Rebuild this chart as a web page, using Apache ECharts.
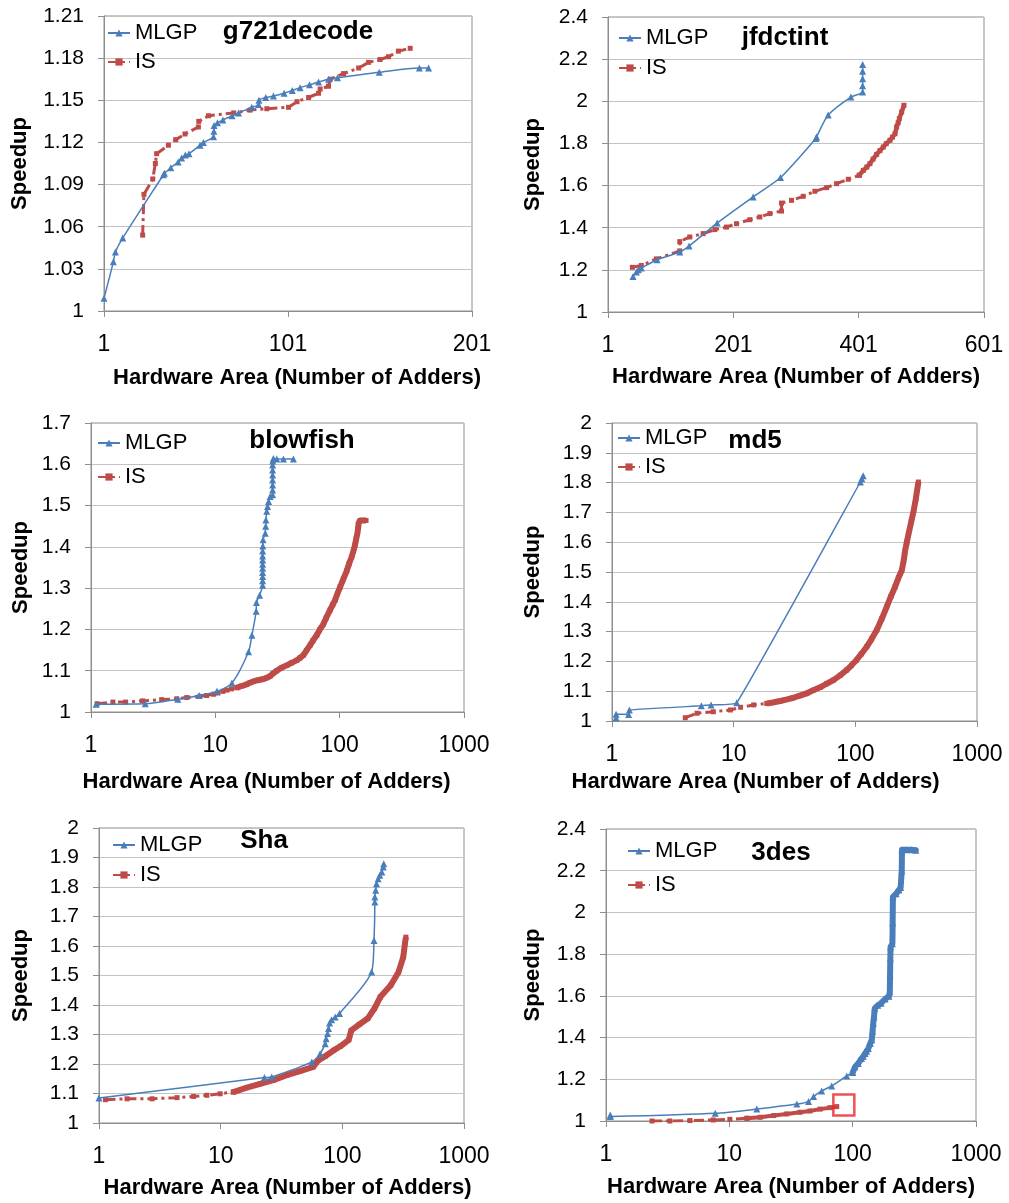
<!DOCTYPE html>
<html>
<head>
<meta charset="utf-8">
<script src="https://cdn.jsdelivr.net/npm/echarts@6/dist/echarts.min.js"></script>
<style>
html,body{margin:0;padding:0;background:#fff;}
#chart{width:1009px;height:1203px;}
</style>
</head>
<body>
<div id="chart"></div>
<script>
// ---------------- DATA ----------------
const panelTitles = ['g721decode', 'jfdctint', 'blowfish', 'md5', 'Sha', '3des'];
const seriesNames = ['MLGP', 'IS'];
const xAxisTitle = 'Hardware Area (Number of Adders)';
const yAxisTitle = 'Speedup';

// g721decode (linear x)
const g721_MLGP = [[1,1.009],[6.1,1.035],[7.2,1.042],[11.2,1.052],[33.3,1.097],[33.8,1.098],[37.3,1.102],[41.3,1.106],[43.2,1.109],[45.2,1.111],[47.2,1.112],[53.2,1.118],[55,1.120],[60.5,1.124],[60.7,1.128],[60.8,1.132],[62.7,1.134],[65.6,1.136],[70.6,1.139],[74.1,1.141],[81.3,1.145],[85,1.147],[85.2,1.150],[88.9,1.152],[93.1,1.153],[98.9,1.155],[103.3,1.157],[107.6,1.159],[112.7,1.161],[117.6,1.163],[123,1.165],[127.9,1.166],[150.6,1.170],[172.4,1.173],[177.4,1.173]];
const g721_IS = [[22,1.054],[22.7,1.083],[27.5,1.094],[28.9,1.105],[29.6,1.112],[36,1.118],[40,1.122],[45,1.126],[52.3,1.131],[52.5,1.135],[57.8,1.139],[71.5,1.141],[80.4,1.143],[89.5,1.144],[101.3,1.145],[105.9,1.149],[112.2,1.152],[117.6,1.155],[118.5,1.158],[123,1.160],[124,1.165],[131.2,1.169],[139.4,1.173],[144.8,1.177],[151,1.179],[155.6,1.181],[161,1.185],[167.4,1.187]];
const g721_IS_dense = [];

// jfdctint (linear x)
const jfdct_MLGP = [[40.9,1.169],[46.3,1.190],[49.5,1.201],[54.2,1.209],[79.3,1.248],[115.5,1.285],[130.4,1.313],[175.1,1.422],[232.6,1.546],[276.3,1.638],[332.7,1.823],[333.8,1.831],[352.4,1.935],[388.6,2.020],[407.3,2.044],[407.3,2.074],[407.3,2.107],[407.3,2.142],[407.3,2.175]];
const jfdct_IS = [[39.9,1.212],[54.2,1.221],[78.2,1.252],[115.5,1.290],[115.5,1.334],[131.5,1.356],[152.8,1.372],[171.4,1.391],[190,1.403],[206,1.419],[227.3,1.438],[243.3,1.451],[259.3,1.467],[277.9,1.479],[277.9,1.517],[293.9,1.530],[312.5,1.549],[331.1,1.573],[349.8,1.590],[365.7,1.609],[384.4,1.630],[402,1.649]];
const jfdct_IS_dense = [[402,1.649],[408.4,1.672],[414,1.688],[419,1.704],[424,1.726],[429.7,1.748],[435,1.766],[440.3,1.783],[445,1.799],[451,1.815],[455,1.830],[459,1.846],[461.6,1.878],[464,1.898],[465.9,1.918],[469.6,1.949],[473.3,1.981]];

// blowfish (log x)
const blow_MLGP = [[1.10,1.019],[2.73,1.020],[5.0,1.031],[7.42,1.040],[10.3,1.050],[13.6,1.070],[18.5,1.146],[19.7,1.186],[21.3,1.244],[21.4,1.265],[22.7,1.283],[24.0,1.307],[24.0,1.318],[24.0,1.328],[24.0,1.338],[24.0,1.348],[24.0,1.358],[24.0,1.368],[24.0,1.378],[24.0,1.390],[24.1,1.402],[24.2,1.417],[25.2,1.433],[25.4,1.450],[25.5,1.465],[25.9,1.486],[26.3,1.498],[26.8,1.510],[27.6,1.522],[28.9,1.526],[28.9,1.538],[28.9,1.550],[28.9,1.562],[28.9,1.574],[28.9,1.586],[28.9,1.598],[29.0,1.608],[29.3,1.614],[31.2,1.613],[35.3,1.613],[42.5,1.613]];
const blow_IS = [[1.12,1.020],[1.5,1.024],[1.9,1.024],[2.6,1.027],[3.7,1.030],[4.9,1.032],[5.9,1.035],[7.5,1.038],[8.5,1.040],[9.7,1.043],[10.5,1.046],[11.5,1.050],[12.4,1.053],[13.5,1.056],[14.9,1.059]];
const blow_IS_dense = [[14.9,1.059],[16.3,1.063],[17.9,1.067],[19,1.071],[20.2,1.074],[22,1.077],[24.4,1.080],[26,1.083],[27.6,1.087],[29,1.093],[31.2,1.100],[34,1.107],[37.5,1.113],[41,1.119],[45.1,1.125],[48,1.131],[51.2,1.138],[54,1.149],[57.9,1.162],[61,1.173],[65.4,1.186],[69,1.199],[74,1.213],[78,1.228],[83.7,1.247],[88,1.260],[91.9,1.271],[96,1.287],[100.9,1.303],[107,1.322],[114,1.342],[119,1.359],[125,1.376],[129,1.390],[133,1.405],[136,1.420],[139,1.433],[141,1.447],[142,1.457],[146,1.464],[152,1.464],[158,1.464],[163,1.464]];

// md5 (log x)
const md5_MLGP = [[1.08,1.011],[1.08,1.023],[1.37,1.022],[1.39,1.037],[5.42,1.051],[6.52,1.054],[10.6,1.061],[110,1.802],[113,1.813],[116,1.823]];
const md5_IS = [[4.0,1.011],[5.0,1.026],[6.8,1.031],[9.4,1.037],[11.4,1.046],[14.6,1.054],[18.8,1.059]];
const md5_IS_dense = [[18.8,1.059],[21,1.062],[24.1,1.067],[27,1.072],[31,1.078],[35,1.085],[40,1.093],[45,1.103],[51.4,1.113],[58,1.125],[66,1.137],[75,1.153],[84.8,1.171],[93,1.187],[102,1.204],[112,1.225],[124,1.249],[136,1.275],[150,1.305],[165,1.343],[181,1.383],[196,1.418],[212,1.450],[226,1.480],[241,1.506],[250,1.540],[257,1.573],[265,1.600],[274,1.629],[288,1.668],[302,1.707],[314,1.745],[325,1.785],[330,1.802]];

// Sha (log x)
const sha_MLGP = [[1.0,1.085],[22.9,1.154],[26.3,1.156],[56.1,1.207],[65.7,1.235],[72.3,1.269],[73.6,1.286],[75.6,1.303],[77,1.320],[78.5,1.339],[81.6,1.350],[87.3,1.359],[94.8,1.371],[174,1.512],[182,1.619],[185,1.749],[185,1.766],[188,1.789],[191,1.811],[197,1.828],[203,1.840],[211,1.851],[217,1.868],[219,1.879]];
const sha_IS = [[1.13,1.079],[1.7,1.082],[2.73,1.082],[4.38,1.086],[5.98,1.090],[7.7,1.094],[9.9,1.099],[12.7,1.105]];
const sha_IS_dense = [[12.7,1.105],[16.4,1.120],[21.1,1.133],[27.1,1.145],[34.9,1.162],[44.9,1.176],[57.6,1.190],[63.3,1.212],[72.2,1.226],[84.7,1.246],[96.3,1.260],[113,1.282],[118.4,1.314],[137.7,1.334],[161.6,1.354],[183.6,1.388],[205,1.427],[250,1.467],[290,1.512],[317,1.563],[327,1.608],[333,1.630]];

// 3des (log x)
const des_MLGP = [[1.084,1.029],[1.084,1.021],[7.69,1.037],[16.7,1.057],[35.3,1.081],[43.9,1.093],[48.2,1.117],[56.1,1.144],[67.6,1.168],[89.6,1.216],[100,1.232]];
const des_MLGP_dense = [[100,1.232],[104.5,1.260],[111,1.276],[118,1.300],[122,1.310],[126,1.324],[130,1.335],[134,1.348],[139,1.372],[143,1.390],[145,1.430],[147,1.470],[149,1.500],[151,1.540],[160,1.555],[170,1.565],[183,1.585],[197,1.598],[200,1.620],[201,1.700],[202,1.780],[203,1.835],[210,1.850],[211,1.950],[212,2.075],[225,2.090],[237,2.107],[245,2.120],[250,2.200],[251,2.300],[270,2.300],[300,2.300],[325,2.298]];
const des_IS = [[2.36,1.000],[3.3,1.000],[4.8,1.002],[7.4,1.005],[10.1,1.008],[13.9,1.013]];
const des_IS_dense = [[13.9,1.013],[17.8,1.018],[22.9,1.026],[29.2,1.034],[37.4,1.042],[45,1.048],[54.4,1.057],[65.5,1.064],[74.3,1.069]];
const des_highlight = [[84.8,1.077]];

const allMLGP = [g721_MLGP, jfdct_MLGP, blow_MLGP, md5_MLGP, sha_MLGP, des_MLGP];
const allMLGPDense = [[], [], [], [], [], des_MLGP_dense];
const allIS = [g721_IS, jfdct_IS, blow_IS, md5_IS, sha_IS, des_IS];
const allISDense = [g721_IS_dense, jfdct_IS_dense, blow_IS_dense, md5_IS_dense, sha_IS_dense, des_IS_dense];

// axis ranges
const xMin = [1, 1, 1, 1, 1, 1];
const xMax = [201, 601, 1000, 1000, 1000, 1000];
const xStep = [100, 200, null, null, null, null];
const yMin = [1, 1, 1, 1, 1, 1];
const yMax = [1.21, 2.4, 1.7, 2, 2, 2.4];
const yStep = [0.03, 0.2, 0.1, 0.1, 0.1, 0.2];

// ---------------- LAYOUT / STYLE ----------------
const grids = [
  {left:104, top:16, width:368, height:295},
  {left:608, top:17, width:376, height:295},
  {left:91,  top:423, width:373, height:289},
  {left:612, top:423, width:365, height:298},
  {left:99,  top:828, width:365, height:295},
  {left:606, top:829, width:370, height:292}
];
const yNameGap = [73, 64, 59, 68, 67, 62];
const xNameGap = [56, 54, 59, 50, 54, 55];
const xNameShift = [18, 0, -22, -78, 12, 0];
const legendPos = [[107,22,7],[618,27,8],[97,432,12],[617,427,7],[112,834,8],[627,840,12]];
const titlePos = [[298,19],[785,25],[302,428],[755,428],[264,828],[781,840]];
const isDenseWidth = [0, 4.5, 6, 6, 6, 4];
const mlgpSmooth = [0.25, 0.25, 0.25, 0.1, 0.25, 0.25];

const FONT = '"Liberation Sans", Arial, sans-serif';
const BLUE = '#4a7ebb';
const RED = '#be4b48';

const option = {
  animation: false,
  backgroundColor: '#fff',
  textStyle: {fontFamily: FONT},
  title: panelTitles.map((t, i) => ({
    text: t, left: titlePos[i][0], top: titlePos[i][1], textAlign: 'center', padding: 0,
    textStyle: {fontFamily: FONT, fontSize: 26, fontWeight: 'bold', color: '#000'}
  })),
  legend: legendPos.map((p) => ({
    orient: 'vertical', left: p[0], top: p[1], itemGap: p[2], padding: 0,
    itemWidth: 22, itemHeight: 9,
    data: seriesNames,
    textStyle: {fontFamily: FONT, fontSize: 22, color: '#000'}
  })),
  grid: grids.map(g => Object.assign({show: true, borderColor: '#8e8e8e', borderWidth: 1, containLabel: false}, g)),
  xAxis: grids.map((g, i) => {
    const ax = {
      gridIndex: i, min: xMin[i], max: xMax[i],
      name: xAxisTitle, nameLocation: 'middle', nameGap: xNameGap[i],
      nameTextStyle: {fontFamily: FONT, fontSize: 22, fontWeight: 'bold', color: '#000',
        padding: xNameShift[i] >= 0 ? [0,0,0,xNameShift[i]] : [0,-xNameShift[i],0,0]},
      axisLine: {show: true, lineStyle: {color: '#8e8e8e', width: 1}},
      axisTick: {show: true, length: 6, lineStyle: {color: '#8e8e8e'}},
      axisLabel: {fontFamily: FONT, fontSize: 23, color: '#000', margin: 22,
        formatter: v => String(Math.round(v))},
      splitLine: {show: false}
    };
    if (xStep[i]) { ax.type = 'value'; ax.interval = xStep[i]; }
    else { ax.type = 'log'; ax.logBase = 10; }
    return ax;
  }),
  yAxis: grids.map((g, i) => ({
    type: 'value', gridIndex: i, min: yMin[i], max: yMax[i], interval: yStep[i],
    name: yAxisTitle, nameLocation: 'middle', nameRotate: 90, nameGap: yNameGap[i],
    nameTextStyle: {fontFamily: FONT, fontSize: 22, fontWeight: 'bold', color: '#000'},
    axisLine: {show: true, lineStyle: {color: '#8e8e8e', width: 1}},
    axisTick: {show: true, length: 6, lineStyle: {color: '#8e8e8e'}},
    axisLabel: {fontFamily: FONT, fontSize: 21, color: '#000', margin: 20,
      formatter: v => String(+v.toFixed(2))},
    splitLine: {show: true, lineStyle: {color: '#c4c4c4', width: 1}}
  })),
  series: []
};

for (let i = 0; i < 6; i++) {
  option.series.push({
    name: 'MLGP', type: 'line', xAxisIndex: i, yAxisIndex: i, data: allMLGP[i],
    smooth: mlgpSmooth[i], symbol: 'triangle', symbolSize: 7, showSymbol: true,
    lineStyle: {color: BLUE, width: 1.5}, itemStyle: {color: BLUE}, z: 3
  });
  option.series.push({
    name: 'IS', type: 'line', xAxisIndex: i, yAxisIndex: i, data: allIS[i],
    symbol: 'rect', symbolSize: 5, showSymbol: true,
    lineStyle: {color: RED, width: 3, type: [10, 4, 3, 4]}, itemStyle: {color: RED}, z: 2
  });
}
for (let i = 0; i < 6; i++) {
  if (allMLGPDense[i].length) {
    option.series.push({
      name: 'MLGP', type: 'line', xAxisIndex: i, yAxisIndex: i, data: allMLGPDense[i],
      symbol: 'triangle', symbolSize: 7, showSymbol: true,
      lineStyle: {color: BLUE, width: 6, join: 'round', cap: 'round'}, itemStyle: {color: BLUE}, z: 3
    });
  }
  if (allISDense[i].length) {
    option.series.push({
      name: 'IS', type: 'line', xAxisIndex: i, yAxisIndex: i, data: allISDense[i],
      symbol: 'rect', symbolSize: 5, showSymbol: true,
      lineStyle: {color: RED, width: isDenseWidth[i], join: 'round'}, itemStyle: {color: RED}, z: 2
    });
  }
}
option.series.push({
  type: 'scatter', xAxisIndex: 5, yAxisIndex: 5, data: des_highlight,
  symbol: 'rect', symbolSize: 21, silent: true,
  itemStyle: {color: 'rgba(0,0,0,0)', borderColor: '#e8262b', borderWidth: 2.5}, z: 5
});

const chart = echarts.init(document.getElementById('chart'), null, {renderer: 'canvas'});
chart.setOption(option);
</script>
</body>
</html>
